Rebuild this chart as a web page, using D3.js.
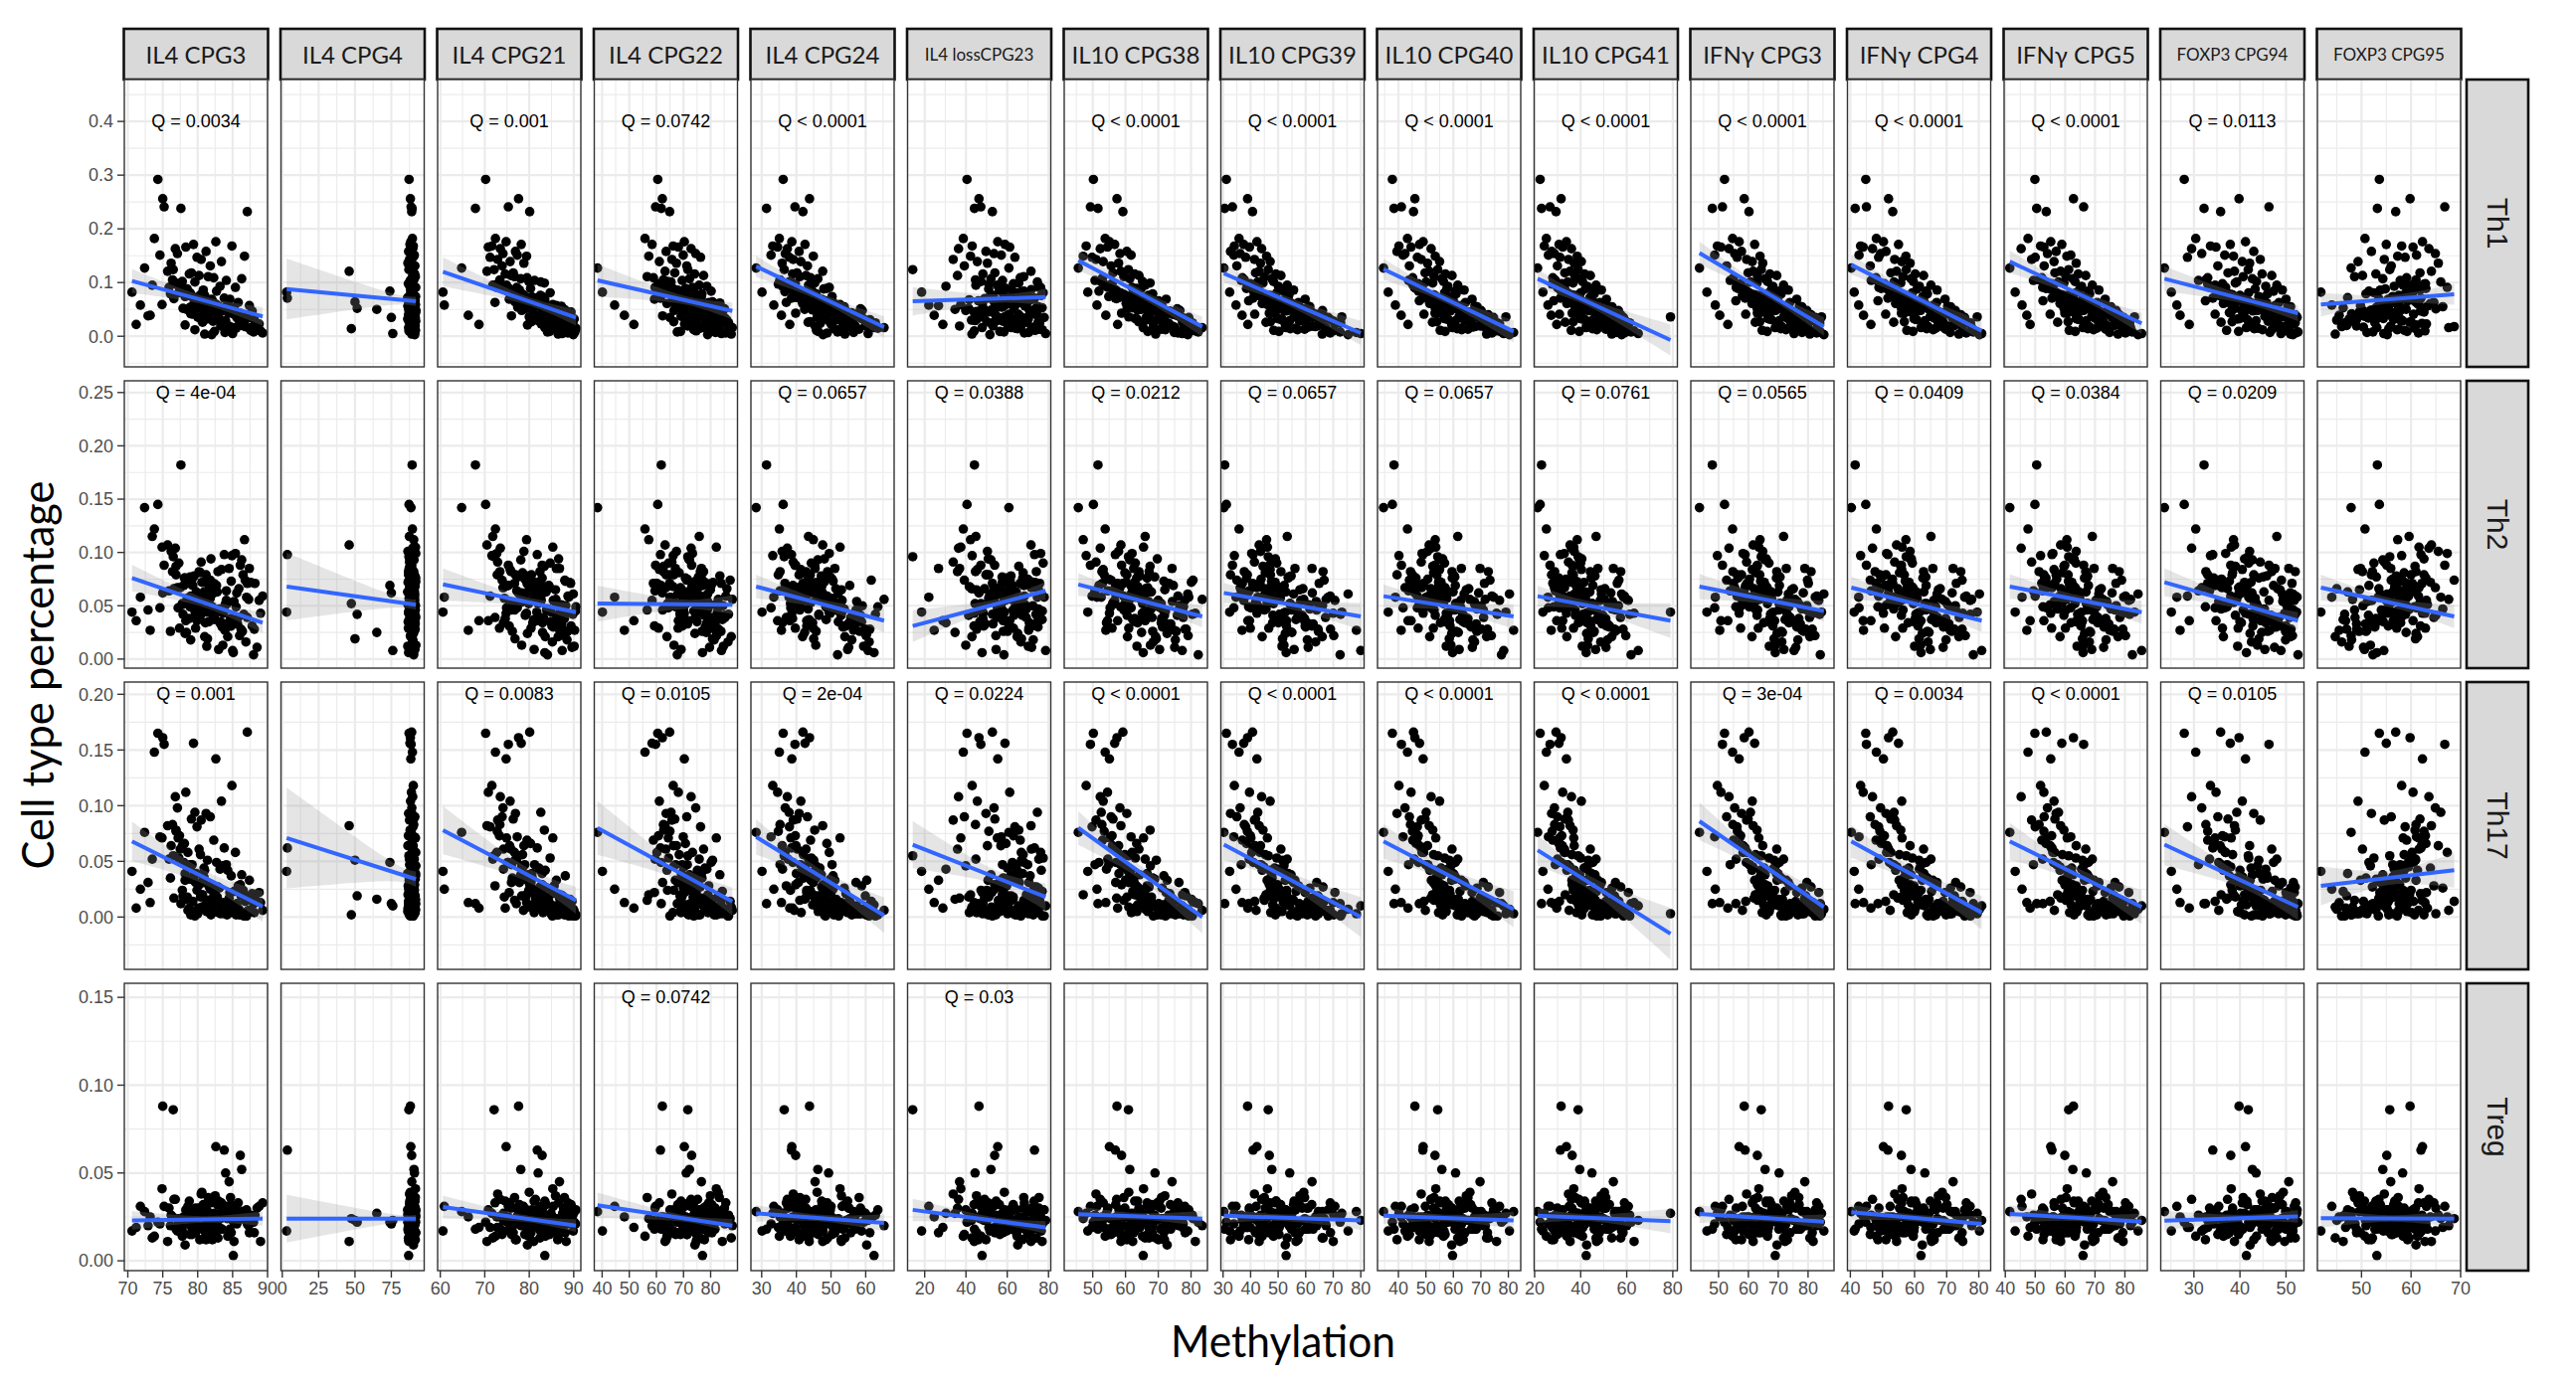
<!DOCTYPE html>
<html>
<head>
<meta charset="utf-8">
<script src="https://cdn.jsdelivr.net/npm/d3@7"></script>
<style>
  body { margin: 0; background: #fff; }
</style>
</head>
<body>
<div id="chart"></div>
<script>
// Facet labels
const columns = ["IL4 CPG3", "IL4 CPG4", "IL4 CPG21", "IL4 CPG22", "IL4 CPG24", "IL4 lossCPG23",
    "IL10 CPG38", "IL10 CPG39", "IL10 CPG40", "IL10 CPG41", "IFNγ CPG3", "IFNγ CPG4", "IFNγ CPG5",
    "FOXP3 CPG94", "FOXP3 CPG95"];
const rows = ["Th1", "Th2", "Th17", "Treg"];

// Cell type percentage per subject (same subjects in every column)
const th1 = [
    .292,.256,.238,.241,.232,.182,.176,.168,.171,.163,.158,.166,.149,.154,.143,.151,.139,.147,.136,.131,
    .127,.118,.124,.109,.116,.121,.104,.113,.098,.107,.101,.095,.111,.089,.093,.099,.086,.091,.102,.084,
    .082,.077,.088,.071,.079,.068,.074,.063,.081,.066,.072,.059,.069,.061,.076,.057,.064,.07,.055,.062,
    .058,.049,.054,.061,.046,.052,.043,.056,.048,.041,.053,.045,.038,.05,.044,.036,.047,.04,.051,.035,
    .039,.031,.034,.027,.042,.029,.033,.024,.037,.026,.03,.021,.035,.028,.019,.032,.023,.025,.018,.036,
    .022,.014,.017,.009,.02,.012,.016,.006,.019,.011,.004,.015,.008,.013,.003,.018,.01,.007,.016,.005,
    .095,.072,.061,.083,.049,.066,.105,.057,.078,.044,.069,.088,.052,.074,.039,.063,.091,.047,.081,.056,
    .034,.071,.059,.045,.087,.065,.028,.076,.053,.041,.068,.097,.048,.06,.031,.084,.055,.043,.073,.025];
const th2 = [
    .145,.062,.182,.088,.071,.122,.043,.097,.055,.104,.079,.036,.112,.067,.091,.048,.084,.059,.101,.074,
    .142,.053,.096,.071,.038,.107,.064,.082,.029,.093,.058,.115,.046,.076,.034,.087,.061,.099,.052,.069,
    .044,.081,.057,.098,.026,.068,.075,.039,.09,.049,.063,.105,.031,.072,.054,.085,.019,.066,.047,.078,
    .058,.034,.077,.021,.065,.042,.088,.051,.013,.069,.037,.094,.046,.025,.073,.056,.031,.082,.041,.062,
    .027,.063,.041,.079,.018,.052,.035,.071,.009,.047,.066,.024,.058,.039,.085,.012,.055,.03,.074,.044,
    .036,.052,.011,.067,.028,.045,.006,.059,.033,.072,.021,.049,.004,.038,.061,.016,.043,.027,.056,.008,
    .048,.063,.037,.071,.055,.029,.082,.044,.059,.033,.068,.051,.041,.076,.026,.057,.064,.035,.049,.072,
    .039,.053,.046,.031,.067,.058,.022,.061,.043,.054,.036,.079,.05,.062,.028,.069,.047,.034,.056,.042];
const th17 = [
    .165,.161,.012,.155,.166,.148,.142,.118,.156,.108,.093,.112,.02,.098,.087,.072,.104,.081,.064,.09,
    .076,.088,.055,.069,.008,.082,.047,.061,.073,.038,.094,.052,.015,.066,.043,.078,.031,.058,.024,.049,
    .041,.056,.018,.062,.035,.004,.047,.028,.053,.012,.039,.071,.022,.044,.006,.033,.051,.017,.026,.038,
    .025,.011,.034,.042,.005,.019,.029,.008,.046,.014,.023,.002,.031,.016,.037,.009,.021,.027,.003,.012,
    .013,.018,.006,.024,.002,.01,.028,.015,.004,.02,.007,.033,.001,.012,.017,.005,.022,.009,.014,.003,
    .008,.002,.014,.005,.019,.001,.011,.006,.003,.016,.009,.002,.012,.004,.007,.001,.013,.003,.006,.01,
    .071,.036,.022,.058,.009,.031,.083,.014,.045,.006,.027,.064,.018,.039,.003,.025,.052,.011,.047,.02,
    .005,.033,.016,.008,.061,.029,.002,.042,.013,.01,.024,.077,.007,.019,.004,.049,.015,.006,.035,.001];
const treg = [
    .022,.088,.018,.031,.025,.014,.065,.027,.02,.035,.012,.029,.024,.017,.038,.021,.033,.019,.026,.015,
    .028,.016,.086,.023,.034,.011,.026,.03,.019,.052,.024,.013,.036,.021,.027,.018,.032,.025,.014,.022,
    .017,.03,.024,.063,.02,.027,.015,.033,.022,.012,.029,.041,.018,.025,.031,.016,.023,.035,.019,.028,
    .031,.019,.026,.014,.037,.022,.06,.018,.029,.024,.011,.033,.02,.027,.016,.039,.023,.013,.03,.021,
    .025,.032,.012,.028,.021,.05,.017,.026,.034,.019,.023,.009,.029,.016,.045,.022,.031,.018,.024,.027,
    .019,.024,.03,.015,.027,.021,.003,.033,.018,.026,.013,.029,.022,.036,.017,.025,.011,.028,.02,.023,
    .024,.018,.027,.021,.031,.016,.025,.029,.02,.023,.034,.017,.026,.022,.028,.019,.03,.024,.015,.027,
    .021,.025,.018,.032,.023,.02,.026,.017,.029,.022,.024,.019,.028,.021,.016,.025,.023,.03,.02,.026];

// Methylation per subject, one array per CpG site
const il4Cpg3 = [
    74.3,75.0,77.6,75.2,87.1,73.8,82.6,84.9,79.4,76.8,81.2,78.3,86.7,77.1,80.5,74.6,83.4,79.9,76.2,81.8,
    72.4,79.1,76.5,82.3,78.8,75.7,84.1,80.2,77.4,86.3,79.6,73.5,81.5,78.1,83.2,76.9,80.8,85.4,77.8,82.7,
    70.6,80.4,78.5,83.8,76.1,81.7,79.2,85.8,77.3,82.1,79.8,74.9,84.6,80.9,78.6,87.4,81.4,76.6,83.1,79.5,
    71.8,81.1,78.9,84.3,82.5,77.9,86.1,80.1,83.6,79.3,85.2,81.9,72.9,78.4,84.8,80.6,87.8,82.9,79.7,85.6,
    73.2,82.8,80.3,86.5,79.0,84.0,81.6,88.2,83.0,80.7,85.9,78.2,87.0,82.2,84.5,81.3,88.8,83.5,86.8,80.0,
    71.2,84.2,88.5,82.4,86.2,79.6,85.1,89.3,83.3,87.6,81.0,85.5,88.0,84.7,82.0,86.9,89.0,83.9,87.3,85.0,
    77.2,80.9,82.4,78.6,84.1,79.7,76.4,81.3,79.0,85.7,82.0,77.8,80.4,78.2,86.4,81.8,75.9,83.3,78.9,80.6,
    87.1,79.4,82.7,84.8,77.5,80.2,86.0,81.0,83.7,85.2,79.9,76.9,83.9,82.3,88.1,78.0,81.5,84.4,80.8,86.6];
const il4Cpg4 = [
    87.2,88.1,89.3,88.6,89.0,89.5,88.4,90.1,87.8,89.7,86.9,88.8,90.4,89.1,87.5,90.8,88.2,89.9,86.4,91.2,
    88.5,90.3,87.1,89.4,91.0,46.0,88.0,89.8,86.7,90.6,88.9,87.4,91.5,89.2,90.0,87.9,88.3,91.8,89.6,74.0,
    3.0,90.2,88.7,3.5,89.1,91.3,87.6,90.7,88.4,89.5,86.2,91.6,88.0,90.9,89.3,87.3,50.0,90.5,88.6,91.1,
    89.7,87.0,91.4,88.3,90.0,51.5,89.0,86.5,91.9,88.8,90.3,87.7,89.4,65.0,91.7,88.1,90.8,86.8,89.2,75.0,
    90.6,88.4,91.5,87.2,89.8,90.9,86.6,88.9,91.2,89.5,87.5,90.2,88.1,91.8,89.1,86.3,90.5,88.7,91.0,89.9,
    88.2,47.5,90.1,87.9,91.4,89.3,86.9,90.7,88.6,91.6,89.0,87.4,90.4,88.3,91.1,89.6,87.1,90.9,88.8,76.0,
    88.9,90.6,87.3,89.6,91.1,88.0,90.4,86.8,89.3,91.4,87.7,90.0,88.5,91.7,89.0,87.2,90.8,88.3,89.8,86.5,
    91.3,88.7,90.2,87.6,89.4,91.0,88.1,90.5,87.0,89.2,90.9,88.6,91.6,87.9,90.3,89.1,88.4,91.2,87.4,90.1];
const il4Cpg21 = [
    70.2,77.6,67.9,75.3,80.1,72.4,74.8,71.6,78.2,73.5,76.9,70.8,79.4,74.1,72.9,77.3,75.7,71.2,78.8,73.9,
    64.8,76.4,72.1,79.5,74.6,70.5,81.2,75.9,73.3,78.1,82.6,71.8,76.7,80.3,74.2,83.4,77.8,72.7,79.9,75.1,
    60.6,78.5,74.4,81.8,76.2,83.1,79.0,72.3,84.7,77.1,80.6,85.3,75.5,82.2,78.7,86.1,76.8,81.4,84.0,79.7,
    60.9,80.8,77.4,83.6,85.9,79.2,82.9,87.2,78.3,84.4,81.0,86.6,76.0,83.0,88.1,80.0,85.1,82.4,87.7,81.6,
    66.3,83.8,86.4,80.5,88.5,82.0,85.6,89.3,81.1,87.0,84.2,79.6,88.9,83.2,86.8,90.1,82.7,85.4,88.0,84.9,
    68.7,86.2,89.6,84.6,87.5,90.4,83.5,88.7,85.8,89.1,86.5,90.5,84.1,87.9,89.9,85.2,88.3,90.2,86.0,87.4,
    74.9,79.6,82.3,76.7,85.4,80.4,73.4,81.7,78.6,87.3,83.5,75.6,79.1,82.9,88.6,80.9,77.2,84.8,76.0,81.3,
    86.2,78.0,83.9,89.4,74.2,80.1,87.9,82.5,79.4,85.9,81.9,72.8,88.2,78.3,86.7,75.3,84.3,83.0,80.7,89.8];
const il4Cpg22 = [
    60.5,62.2,61.8,59.7,64.9,55.8,70.3,66.2,58.4,72.8,63.6,68.1,57.2,74.5,65.7,69.9,61.1,76.3,67.4,71.2,
    38.3,66.8,71.6,58.9,74.1,63.2,69.5,77.4,60.8,72.2,65.4,75.8,56.6,70.7,78.6,62.7,67.9,73.3,64.1,80.2,
    40.1,68.4,73.7,61.5,76.8,66.1,71.4,79.3,64.5,74.9,69.2,82.1,59.3,77.9,72.6,67.0,80.7,75.2,70.0,83.4,
    44.6,70.8,75.5,63.9,79.9,68.7,73.0,81.6,66.5,77.1,84.3,71.9,62.3,78.4,74.4,82.8,69.6,76.2,85.1,72.5,
    48.2,73.6,77.7,66.4,81.3,71.0,75.0,83.9,69.1,79.0,86.0,74.2,65.0,80.5,76.6,84.7,70.4,78.0,87.2,82.5,
    51.7,75.4,79.6,68.9,82.9,73.8,77.0,85.6,71.5,80.9,87.6,76.1,67.7,83.2,78.9,86.4,74.7,81.8,88.0,84.0,
    64.4,71.3,74.7,60.2,78.3,68.0,62.6,75.9,70.1,81.0,73.1,66.3,69.4,76.6,83.8,72.0,59.5,79.6,67.1,74.0,
    85.3,70.9,77.3,80.4,63.5,72.8,82.2,75.1,68.8,78.9,71.7,65.0,84.5,73.9,79.1,61.7,76.0,81.7,69.7,86.6];
const il4Cpg24 = [
    36.2,43.8,31.4,39.6,41.9,35.1,38.7,33.2,42.5,37.4,40.8,34.6,44.9,36.8,39.1,32.7,41.3,38.0,35.9,43.2,
    28.4,40.2,36.5,44.1,38.9,47.6,35.3,42.8,39.7,46.2,37.9,43.5,41.0,48.8,36.0,45.3,40.6,49.5,38.3,44.6,
    30.1,42.0,47.9,38.6,45.7,41.4,50.3,37.1,44.3,48.5,40.0,52.6,43.0,46.8,39.4,51.1,45.0,42.7,53.8,47.2,
    33.5,44.7,49.8,41.8,53.0,46.5,39.8,51.7,45.6,55.4,43.7,48.1,57.2,42.4,50.6,46.0,54.3,49.0,58.5,52.1,
    35.7,47.4,52.9,44.0,56.0,49.3,58.8,46.9,54.8,43.4,51.4,60.3,48.4,55.7,45.4,59.4,50.0,53.4,61.6,57.6,
    38.1,50.8,55.1,46.3,59.9,52.2,62.4,48.9,57.0,45.8,54.0,63.5,51.9,58.1,47.7,61.0,53.0,56.5,65.3,60.7,
    38.4,45.8,48.6,36.7,53.2,44.9,35.3,49.4,42.6,55.9,47.3,39.9,46.5,43.7,58.3,50.6,37.6,52.1,41.2,48.0,
    56.7,44.2,51.5,54.0,40.3,47.7,60.1,45.4,49.8,57.4,43.0,34.8,59.0,46.8,61.2,39.0,50.9,55.2,42.1,62.8];
const il4LossCpg23 = [
    40.5,46.3,44.1,47.2,52.8,38.7,55.4,43.0,58.9,36.4,49.7,61.2,42.2,53.6,33.8,57.1,45.5,63.7,50.4,39.2,
    60.8,54.0,14.2,66.3,48.2,71.5,57.7,35.9,63.0,52.1,74.6,44.8,68.0,59.4,30.3,65.6,56.2,76.2,47.3,62.5,
    18.5,67.7,51.0,73.2,58.1,41.6,69.9,55.0,77.4,46.0,64.4,37.5,72.0,60.1,53.3,26.7,66.9,49.0,75.1,61.8,
    22.0,70.7,57.5,64.8,45.1,73.9,53.9,68.6,39.9,61.0,76.9,50.8,65.9,34.7,71.1,58.6,48.6,74.1,63.3,55.8,
    24.6,62.9,67.3,50.1,72.6,44.4,59.7,75.7,54.6,69.3,42.7,65.1,77.9,57.9,36.9,70.2,52.5,74.9,61.4,48.1,
    28.8,65.0,71.8,56.4,60.3,77.0,47.8,68.3,53.1,73.5,42.9,63.9,58.4,75.4,51.6,66.6,44.0,70.4,61.9,78.6,
    55.2,61.4,47.9,66.8,52.3,70.5,44.6,58.7,63.9,49.4,73.0,56.9,41.3,67.5,60.2,53.8,75.3,46.7,64.6,57.6,
    69.2,50.7,62.8,43.9,71.7,59.3,54.5,76.5,48.3,65.4,58.0,51.1,72.4,61.9,45.2,68.1,55.7,74.2,63.0,52.8];
const il10Cpg38 = [
    50.2,57.4,51.6,49.3,59.2,53.8,55.1,48.0,56.7,52.3,60.4,54.5,47.1,58.3,51.0,61.7,53.2,49.8,57.9,55.6,
    45.6,56.2,60.9,53.0,62.8,58.6,50.7,64.1,55.9,61.3,52.6,66.0,59.5,63.4,54.2,67.5,57.0,62.0,65.2,51.9,
    48.5,59.8,64.7,56.9,68.3,61.8,54.9,66.6,63.0,70.1,58.0,65.5,72.4,60.2,67.0,62.5,69.4,57.3,71.2,64.3,
    51.3,63.7,68.9,60.6,72.0,65.9,58.8,70.7,67.6,74.6,62.2,69.7,76.3,64.9,71.7,61.0,73.5,67.2,75.8,66.3,
    54.0,67.9,71.9,64.0,75.2,69.0,62.9,73.2,70.4,77.4,66.1,72.7,79.3,68.1,74.2,63.5,78.1,71.3,80.6,76.7,
    57.6,70.9,75.0,66.8,78.5,72.2,65.4,76.0,73.8,80.1,69.2,77.7,82.2,71.0,79.0,68.5,81.3,74.9,83.4,77.3,
    55.3,62.1,64.9,57.6,70.0,61.0,52.8,65.7,59.4,72.8,63.7,56.0,60.5,66.6,75.5,64.4,54.6,71.4,58.5,62.8,
    77.6,60.0,67.3,73.7,56.8,63.0,79.1,61.7,65.1,74.3,66.0,53.5,76.6,64.0,78.2,57.1,67.8,70.9,61.3,80.4];
const il10Cpg39 = [
    31.2,38.9,30.6,33.4,40.7,35.8,42.3,34.1,37.5,44.0,32.7,39.6,45.8,36.2,41.4,33.9,47.1,38.2,43.6,35.0,
    30.3,41.8,46.4,37.0,49.2,43.1,36.6,51.0,39.9,47.7,42.6,53.3,45.0,38.5,50.1,44.5,55.6,40.4,48.3,52.2,
    32.4,45.3,50.8,40.9,54.0,47.3,43.8,57.4,49.5,39.3,52.8,46.1,59.8,48.7,42.0,56.1,51.6,44.9,61.5,54.7,
    34.7,48.0,53.7,44.2,57.9,50.5,46.8,61.1,52.1,41.5,56.5,49.0,64.0,55.0,47.6,59.3,53.0,66.3,58.7,62.4,
    36.9,50.9,57.2,47.2,60.6,54.2,49.7,64.9,55.8,45.6,59.0,52.6,68.2,57.7,62.3,51.4,70.6,60.0,66.7,73.1,
    39.0,54.4,60.9,50.3,64.5,57.0,52.9,68.9,62.7,48.4,66.0,56.3,72.5,59.6,75.4,63.6,70.0,78.4,67.4,80.0,
    40.1,47.5,51.3,43.4,58.2,46.6,37.7,52.6,44.8,61.5,49.3,41.6,48.1,53.7,64.6,50.4,39.5,59.7,43.0,48.9,
    67.2,46.0,54.8,62.2,42.3,49.8,70.2,47.0,51.9,63.8,53.1,38.8,66.1,50.9,69.0,41.0,55.6,60.4,47.8,72.7];
const il10Cpg40 = [
    37.8,46.0,38.4,41.1,45.5,43.3,49.0,40.2,47.7,51.9,39.5,44.6,53.4,42.4,48.3,41.7,55.0,46.9,50.6,44.0,
    34.6,49.7,54.3,45.2,57.1,51.2,43.7,59.5,47.2,55.8,50.1,61.6,53.0,46.4,58.0,52.5,63.9,48.6,56.4,60.7,
    36.3,52.8,57.6,48.9,61.0,54.6,50.7,64.4,56.8,47.6,59.9,53.6,66.8,55.5,49.8,62.9,58.5,51.8,68.6,60.3,
    38.9,55.3,60.5,51.4,64.7,57.9,53.3,67.8,59.1,49.3,62.4,56.1,70.9,61.8,54.8,66.0,58.8,72.7,63.4,69.2,
    41.0,58.2,63.6,54.0,67.1,60.8,56.6,71.3,62.1,52.4,65.6,59.4,74.6,64.2,69.7,57.4,76.8,66.5,73.3,79.1,
    43.5,61.4,66.9,57.0,70.2,63.0,59.7,74.0,68.3,55.2,72.1,62.6,77.5,65.3,80.4,67.7,75.7,81.9,71.6,78.3,
    46.9,54.0,56.8,49.2,62.7,52.7,44.4,58.3,51.0,65.4,55.1,47.6,53.4,59.6,68.5,56.0,45.8,63.5,50.0,54.6,
    71.0,52.0,60.6,66.3,48.4,55.7,73.8,53.2,57.4,67.6,58.6,45.1,70.1,56.5,72.4,47.3,61.2,64.2,53.8,76.0];
const il10Cpg41 = [
    22.4,31.5,23.0,26.7,29.3,25.1,33.8,24.2,30.6,36.0,27.4,32.2,38.5,28.6,34.7,26.0,40.3,31.0,37.2,29.9,
    21.3,33.1,38.9,27.9,41.7,35.4,29.0,44.2,31.8,39.6,34.4,46.7,37.6,30.5,42.8,36.7,49.0,32.9,40.8,45.3,
    23.6,36.2,42.1,31.2,45.9,38.2,33.6,48.4,40.0,28.3,44.0,37.0,51.2,41.5,35.0,47.5,43.3,39.2,53.6,46.2,
    25.8,39.0,44.7,34.0,48.9,41.1,36.3,52.0,43.0,30.8,46.9,40.5,55.1,45.6,38.1,50.3,44.4,57.4,49.6,53.1,
    27.2,41.9,47.8,36.8,51.7,44.9,39.8,55.9,46.5,33.3,50.5,42.6,58.6,48.1,54.2,40.7,60.7,52.4,56.6,79.0,
    29.6,45.1,51.0,39.4,54.7,47.0,42.4,59.0,49.3,35.9,53.5,46.0,61.9,50.9,57.8,48.7,63.2,55.5,60.0,65.0,
    30.8,38.4,41.6,33.3,48.5,36.9,28.7,43.3,35.3,51.6,39.8,32.0,37.7,44.7,54.9,41.0,29.9,49.9,34.3,38.9,
    57.3,36.2,45.9,52.5,33.0,40.4,59.6,37.3,42.4,53.8,43.8,27.6,56.4,41.9,58.4,31.5,46.4,50.6,38.0,61.3];
const ifngCpg3 = [
    52.0,58.6,47.9,51.3,60.2,54.7,56.9,49.6,62.1,53.5,57.7,50.8,63.9,55.4,59.4,48.7,61.3,56.2,64.8,52.7,
    43.6,59.9,64.3,55.0,67.2,61.6,53.9,69.5,57.4,65.6,60.7,71.8,63.1,56.5,68.2,62.9,73.4,58.2,66.4,70.4,
    46.1,62.4,67.8,58.9,71.0,64.6,60.4,73.9,66.9,55.8,69.9,63.5,76.2,65.3,58.0,72.7,68.6,61.9,77.9,70.0,
    48.9,65.1,70.6,61.2,74.5,67.4,63.0,77.1,69.1,59.1,72.3,66.0,79.6,71.4,64.1,75.6,68.2,81.0,73.2,78.4,
    50.4,67.7,73.1,63.8,76.6,70.3,66.5,80.1,71.9,62.3,75.1,69.6,82.4,74.0,78.9,67.0,83.6,76.3,79.8,84.5,
    53.1,70.9,75.9,66.3,79.2,72.6,69.0,82.9,77.4,64.6,80.6,73.6,84.1,76.9,85.3,71.2,81.7,78.0,83.1,75.3,
    57.0,64.4,67.3,59.6,72.9,63.3,54.8,68.3,61.5,75.8,66.0,58.2,62.9,69.4,78.6,66.8,55.9,74.2,60.3,65.2,
    80.5,62.1,70.2,77.0,58.9,65.6,82.3,64.0,67.8,76.4,68.8,56.3,79.6,66.4,81.4,59.3,71.3,73.6,63.7,83.9];
const ifngCpg4 = [
    44.8,51.9,41.5,45.0,53.2,48.1,50.3,43.2,55.0,46.9,51.1,44.0,57.3,49.4,53.8,42.7,56.0,48.8,58.6,46.2,
    40.3,52.6,57.4,48.0,60.2,54.4,46.5,62.8,50.6,58.9,53.6,65.1,56.4,49.6,61.5,55.7,67.0,51.3,59.6,63.6,
    41.2,55.3,60.8,51.7,64.0,57.7,53.1,66.9,59.3,48.6,62.9,56.1,69.5,58.2,52.4,65.7,61.4,54.8,71.2,63.0,
    42.6,58.0,63.5,54.1,67.4,60.4,55.9,70.3,61.9,51.0,65.3,59.0,72.8,64.5,57.1,68.6,61.1,74.4,66.2,71.7,
    44.1,60.6,66.1,56.8,69.8,63.2,59.8,73.0,64.9,53.5,68.0,62.4,75.6,67.2,72.0,60.0,77.3,69.0,74.8,79.5,
    46.4,63.8,68.9,59.5,72.4,65.8,62.0,76.1,70.7,57.6,73.8,66.6,78.3,69.7,80.2,64.2,75.0,71.1,77.8,80.9,
    50.0,57.2,60.4,52.6,66.0,56.3,47.7,61.6,54.5,68.9,59.0,51.4,55.9,62.6,71.6,59.9,48.9,67.1,53.5,58.2,
    73.9,55.2,63.5,70.1,51.9,58.7,75.8,57.0,61.0,69.6,62.0,49.2,72.7,59.5,74.8,52.2,64.3,66.7,56.6,77.4];
const ifngCpg5 = [
    49.9,62.8,50.5,66.2,53.7,47.6,55.2,51.8,58.9,45.3,57.0,52.9,60.6,54.1,48.8,61.9,56.3,50.0,63.7,53.0,
    41.5,56.6,61.2,52.2,64.4,58.5,49.4,66.9,55.5,62.6,57.8,69.1,60.3,53.6,65.5,59.6,71.3,55.9,63.3,67.8,
    43.3,59.1,64.9,55.6,68.2,61.5,57.2,70.8,63.6,52.6,67.0,60.7,73.4,62.2,56.4,69.7,65.8,58.6,75.3,67.5,
    45.6,62.0,67.4,58.3,71.5,64.2,59.9,74.2,66.2,55.0,69.3,63.0,76.7,68.5,61.1,72.6,65.3,78.1,70.1,75.7,
    47.2,64.7,70.0,61.0,73.7,67.1,63.7,77.0,68.9,57.5,72.1,66.5,79.6,71.0,75.9,64.0,81.3,73.0,78.9,83.2,
    48.3,67.6,72.9,63.4,76.4,69.5,66.0,80.2,74.6,61.4,77.7,70.6,82.5,73.6,84.4,68.1,79.4,74.9,81.9,85.6,
    53.8,61.0,64.1,56.5,70.3,60.1,51.3,65.5,58.3,73.2,62.9,55.0,59.6,66.5,76.1,63.8,52.5,71.4,57.3,62.1,
    78.3,59.0,67.4,74.4,55.6,62.5,80.2,60.8,64.9,73.9,65.8,52.9,77.1,63.3,79.3,56.1,68.3,70.9,60.4,81.6];
const foxp3Cpg94 = [
    27.9,39.8,32.2,46.3,35.8,30.4,41.2,33.6,37.9,29.5,43.0,34.8,38.6,31.7,44.4,36.7,40.5,28.6,42.1,35.2,
    23.6,37.4,41.8,33.0,44.8,38.8,31.0,46.9,36.2,42.7,39.3,48.0,40.7,34.3,45.6,39.0,49.2,36.9,43.6,47.3,
    25.1,38.4,43.3,34.1,46.0,40.1,36.0,48.5,41.9,32.5,45.2,38.1,50.0,42.4,35.4,47.6,44.1,37.3,51.0,45.8,
    26.3,40.3,45.0,36.4,48.7,42.0,38.0,50.4,43.8,34.6,47.0,41.0,51.6,44.7,37.7,49.4,42.8,52.0,46.4,50.9,
    27.0,41.6,46.7,38.3,49.9,43.5,40.0,51.3,45.4,35.9,48.2,42.2,52.4,46.1,50.6,39.5,51.8,47.9,49.0,52.3,
    29.0,43.1,47.5,39.7,50.2,44.9,41.4,52.1,48.4,37.1,51.0,43.9,52.6,47.0,51.5,42.5,49.7,46.5,50.7,48.9,
    34.6,40.6,42.9,36.8,46.3,39.6,32.6,43.6,38.0,48.3,41.5,35.7,39.0,44.1,49.9,42.2,33.4,47.0,37.2,41.0,
    50.8,38.6,44.8,48.9,36.1,41.9,51.4,40.0,43.1,49.3,44.5,33.0,50.2,42.6,51.1,35.4,45.3,47.6,39.3,52.0];
const foxp3Cpg95 = [
    53.6,59.8,53.2,66.8,56.9,50.7,62.3,58.1,55.0,63.6,52.0,60.4,57.3,64.9,54.6,61.1,49.3,58.8,65.5,56.0,
    47.9,61.8,55.7,59.1,52.9,64.1,57.8,50.2,62.9,54.3,66.0,59.6,48.6,63.0,56.6,60.8,53.8,67.3,58.4,51.5,
    41.8,58.6,54.8,62.0,50.9,60.1,56.3,64.6,52.5,59.3,47.2,61.6,55.4,63.9,57.5,49.8,60.9,53.5,66.4,57.0,
    44.0,57.9,53.0,61.3,49.6,58.9,55.1,63.3,51.8,60.5,46.3,62.6,54.0,59.0,56.8,48.2,61.9,52.2,65.0,57.6,
    45.5,56.5,51.4,60.0,48.0,58.3,54.4,62.2,50.6,59.7,45.0,61.0,53.4,58.0,55.9,47.5,63.1,52.7,68.7,56.2,
    46.8,55.5,50.4,59.2,47.0,57.2,53.1,61.5,49.0,58.7,44.7,60.7,52.3,57.4,55.2,46.0,62.8,51.1,67.6,54.5,
    58.4,56.3,53.7,60.2,52.1,57.1,61.0,55.0,59.5,50.8,56.7,62.1,54.2,58.0,49.5,55.8,60.9,51.9,59.0,57.5,
    48.7,56.0,54.7,52.6,61.6,57.7,47.9,58.6,55.3,51.2,56.4,62.6,50.3,57.2,49.0,60.5,55.5,52.9,58.9,46.6];

// Axis limits and breaks
const xLimits = [[69.5, 90], [-0.9, 97.6], [59.4, 91.6], [37.1, 89.9], [26.9, 68.2], [11.7, 81.1],
    [41.3, 85], [29.2, 81.2], [32.4, 84.5], [19.8, 82], [40.7, 88.7], [39.1, 83.7], [39.6, 87.5],
    [22.8, 53.9], [41.1, 70]];
const xTicks = [[70, 75, 80, 85, 90], [0, 25, 50, 75], [60, 70, 80, 90], [40, 50, 60, 70, 80],
    [30, 40, 50, 60], [20, 40, 60, 80], [50, 60, 70, 80], [30, 40, 50, 60, 70, 80],
    [40, 50, 60, 70, 80], [20, 40, 60, 80], [50, 60, 70, 80], [40, 50, 60, 70, 80],
    [40, 50, 60, 70, 80], [30, 40, 50], [50, 60, 70]];
const yLimits = [[-0.057, 0.478], [-0.0085, 0.261], [-0.047, 0.211], [-0.0056, 0.158]];
const yTicks = [[0, 0.1, 0.2, 0.3, 0.4], [0, 0.05, 0.1, 0.15, 0.2, 0.25],
    [0, 0.05, 0.1, 0.15, 0.2], [0, 0.05, 0.1, 0.15]];
const yDigits = [1, 2, 2, 2];

// Q values (empty = not shown) and height of the label in data units
const qTh1 = ["Q = 0.0034", "", "Q = 0.001", "Q = 0.0742", "Q < 0.0001", "", "Q < 0.0001", "Q < 0.0001",
    "Q < 0.0001", "Q < 0.0001", "Q < 0.0001", "Q < 0.0001", "Q < 0.0001", "Q = 0.0113", ""];
const qTh2 = ["Q = 4e-04", "", "", "", "Q = 0.0657", "Q = 0.0388", "Q = 0.0212", "Q = 0.0657",
    "Q = 0.0657", "Q = 0.0761", "Q = 0.0565", "Q = 0.0409", "Q = 0.0384", "Q = 0.0209", ""];
const qTh17 = ["Q = 0.001", "", "Q = 0.0083", "Q = 0.0105", "Q = 2e-04", "Q = 0.0224", "Q < 0.0001",
    "Q < 0.0001", "Q < 0.0001", "Q < 0.0001", "Q = 3e-04", "Q = 0.0034", "Q < 0.0001", "Q = 0.0105", ""];
const qTreg = ["", "", "", "Q = 0.0742", "", "Q = 0.03", "", "", "", "", "", "", "", "", ""];
const qLevel = [0.4, 0.25, 0.2, 0.15];

// Fitted line value at the lowest and highest methylation of each panel
const fitStartTh1 = [0.103, 0.088, 0.12, 0.104, 0.13, 0.065, 0.141, 0.117, 0.125, 0.107, 0.155, 0.133, 0.139, 0.107, 0.059];
const fitEndTh1 = [0.037, 0.065, 0.035, 0.047, 0.017, 0.073, 0.018, 0.006, 0.009, -0.007, 0.018, 0.01, 0.024, 0.043, 0.078];
const fitStartTh2 = [0.076, 0.068, 0.07, 0.052, 0.068, 0.031, 0.07, 0.062, 0.059, 0.059, 0.068, 0.067, 0.068, 0.072, 0.067];
const fitEndTh2 = [0.034, 0.051, 0.044, 0.051, 0.036, 0.064, 0.04, 0.04, 0.04, 0.036, 0.045, 0.036, 0.044, 0.036, 0.04];
const fitStartTh17 = [0.068, 0.071, 0.078, 0.08, 0.072, 0.065, 0.08, 0.065, 0.068, 0.06, 0.086, 0.068, 0.068, 0.065, 0.028];
const fitEndTh17 = [0.0095, 0.034, 0.015, 0.014, 0.0015, 0.018, 0.0, 0.0, 0.007, -0.015, 0.009, 0.004, 0.009, 0.009, 0.042];
const fitStartTreg = [0.023, 0.024, 0.0306, 0.0316, 0.027, 0.029, 0.0265, 0.0257, 0.0257, 0.0257, 0.0267, 0.0276, 0.0267, 0.0229, 0.0242];
const fitEndTreg = [0.024, 0.024, 0.02, 0.02, 0.0216, 0.019, 0.024, 0.023, 0.023, 0.0226, 0.0223, 0.021, 0.0223, 0.0253, 0.024];
// residual standard deviation per cell type, used for the 95% band
const residualSd = [0.05, 0.028, 0.04, 0.012];

window.onload = () => {
    const cellData = [th1, th2, th17, treg];
    const methData = [il4Cpg3, il4Cpg4, il4Cpg21, il4Cpg22, il4Cpg24, il4LossCpg23, il10Cpg38, il10Cpg39,
        il10Cpg40, il10Cpg41, ifngCpg3, ifngCpg4, ifngCpg5, foxp3Cpg94, foxp3Cpg95];
    const qText = [qTh1, qTh2, qTh17, qTreg];
    const fitStart = [fitStartTh1, fitStartTh2, fitStartTh17, fitStartTreg];
    const fitEnd = [fitEndTh1, fitEndTh2, fitEndTh17, fitEndTreg];

    const width = 2590, height = 1388;
    const left = 125, colStep = 157.5, panelW = 144;
    const top = 80, rowStep = 303, panelH = 289;
    const stripTop = 29;
    const tickLen = 7;
    const numFont = "'Liberation Sans', Arial, sans-serif";
    const titleFont = "Lato, 'Open Sans', sans-serif";

    const svg = d3.select("#chart").append("svg")
        .attr("width", width).attr("height", height)
        .style("background", "#fff");
    const defs = svg.append("defs");

    // minor breaks halfway between majors, ggplot style
    function minorBreaks(ticks, domain) {
        const step = ticks[1] - ticks[0];
        const out = [ticks[0] - step / 2].concat(ticks.map(t => t + step / 2));
        return out.filter(v => v > domain[0] && v < domain[1]);
    }

    columns.forEach((name, c) => {
        const x0 = left + c * colStep;
        const xScale = d3.scaleLinear().domain(xLimits[c]).range([x0, x0 + panelW]);
        const xs = methData[c];
        const xExt = d3.extent(xs);
        const xMean = d3.mean(xs);
        const sxx = d3.sum(xs, v => (v - xMean) * (v - xMean));

        // column strip
        svg.append("rect")
            .attr("x", x0 - 0.5).attr("y", stripTop)
            .attr("width", panelW + 1).attr("height", top - stripTop)
            .attr("fill", "#d9d9d9").attr("stroke", "#111").attr("stroke-width", 2.6);
        svg.append("text")
            .attr("x", x0 + panelW / 2).attr("y", (stripTop + top) / 2)
            .attr("text-anchor", "middle").attr("dominant-baseline", "central")
            .style("font-family", titleFont)
            .style("font-size", name.length > 10 ? "17px" : "24px")
            .style("fill", "#1a1a1a")
            .text(name);

        rows.forEach((rname, r) => {
            const y0 = top + r * rowStep;
            const yScale = d3.scaleLinear().domain(yLimits[r]).range([y0 + panelH, y0]);
            const g = svg.append("g");
            const clipId = `clip-${r}-${c}`;
            defs.append("clipPath").attr("id", clipId)
                .append("rect").attr("x", x0).attr("y", y0).attr("width", panelW).attr("height", panelH);

            g.append("rect").attr("x", x0).attr("y", y0).attr("width", panelW).attr("height", panelH)
                .attr("fill", "#fff");

            // grid
            const grid = g.append("g").attr("stroke", "#ebebeb");
            minorBreaks(xTicks[c], xLimits[c]).forEach(v => {
                grid.append("line").attr("x1", xScale(v)).attr("x2", xScale(v))
                    .attr("y1", y0).attr("y2", y0 + panelH).attr("stroke-width", 1.1);
            });
            minorBreaks(yTicks[r], yLimits[r]).forEach(v => {
                grid.append("line").attr("y1", yScale(v)).attr("y2", yScale(v))
                    .attr("x1", x0).attr("x2", x0 + panelW).attr("stroke-width", 1.1);
            });
            xTicks[c].forEach(v => {
                grid.append("line").attr("x1", xScale(v)).attr("x2", xScale(v))
                    .attr("y1", y0).attr("y2", y0 + panelH).attr("stroke-width", 2.2);
            });
            yTicks[r].forEach(v => {
                grid.append("line").attr("y1", yScale(v)).attr("y2", yScale(v))
                    .attr("x1", x0).attr("x2", x0 + panelW).attr("stroke-width", 2.2);
            });

            const inner = g.append("g").attr("clip-path", `url(#${clipId})`);
            const ys = cellData[r];
            const pts = xs.map((x, i) => ({ x: x, y: ys[i] }));

            inner.selectAll("circle").data(pts).enter().append("circle")
                .attr("cx", d => xScale(d.x)).attr("cy", d => yScale(d.y))
                .attr("r", 4.8).attr("fill", "#000");

            // regression line with 95% band
            const fitAt = v => fitStart[r][c] + (fitEnd[r][c] - fitStart[r][c]) * (v - xExt[0]) / (xExt[1] - xExt[0]);
            const halfAt = v => 1.98 * residualSd[r] * Math.sqrt(1 / xs.length + (v - xMean) * (v - xMean) / sxx);
            const band = d3.range(0, 41).map(k => xExt[0] + (xExt[1] - xExt[0]) * k / 40);
            inner.append("path")
                .datum(band)
                .attr("d", d3.area()
                    .x(v => xScale(v))
                    .y0(v => yScale(fitAt(v) - halfAt(v)))
                    .y1(v => yScale(fitAt(v) + halfAt(v))))
                .attr("fill", "#999").attr("fill-opacity", 0.25);
            inner.append("line")
                .attr("x1", xScale(xExt[0])).attr("y1", yScale(fitStart[r][c]))
                .attr("x2", xScale(xExt[1])).attr("y2", yScale(fitEnd[r][c]))
                .attr("stroke", "#3366ff").attr("stroke-width", 4);

            if (qText[r][c]) {
                g.append("text")
                    .attr("x", x0 + panelW / 2).attr("y", yScale(qLevel[r]))
                    .attr("text-anchor", "middle").attr("dominant-baseline", "central")
                    .style("font-family", numFont).style("font-size", "18px").style("fill", "#000")
                    .text(qText[r][c]);
            }

            g.append("rect").attr("x", x0).attr("y", y0).attr("width", panelW).attr("height", panelH)
                .attr("fill", "none").attr("stroke", "#333").attr("stroke-width", 1.4);

            // y axis on the first column
            if (c === 0) {
                const fmt = d3.format(`.${yDigits[r]}f`);
                yTicks[r].forEach(v => {
                    svg.append("line").attr("x1", x0 - tickLen).attr("x2", x0)
                        .attr("y1", yScale(v)).attr("y2", yScale(v))
                        .attr("stroke", "#333").attr("stroke-width", 1.4);
                    svg.append("text").attr("x", x0 - tickLen - 4).attr("y", yScale(v))
                        .attr("text-anchor", "end").attr("dy", "0.35em")
                        .style("font-family", numFont).style("font-size", "18px").style("fill", "#4d4d4d")
                        .text(fmt(v));
                });
            }
            // x axis on the last row
            if (r === rows.length - 1) {
                xTicks[c].forEach(v => {
                    svg.append("line").attr("x1", xScale(v)).attr("x2", xScale(v))
                        .attr("y1", y0 + panelH).attr("y2", y0 + panelH + tickLen)
                        .attr("stroke", "#333").attr("stroke-width", 1.4);
                    svg.append("text").attr("x", xScale(v)).attr("y", y0 + panelH + tickLen + 17)
                        .attr("text-anchor", "middle")
                        .style("font-family", numFont).style("font-size", "18px").style("fill", "#4d4d4d")
                        .text(v);
                });
            }
            // row strip on the right
            if (c === columns.length - 1) {
                const sx = x0 + panelW + 6;
                svg.append("rect").attr("x", sx).attr("y", y0).attr("width", 62).attr("height", panelH)
                    .attr("fill", "#d9d9d9").attr("stroke", "#111").attr("stroke-width", 2.6);
                svg.append("text")
                    .attr("transform", `translate(${sx + 31},${y0 + panelH / 2}) rotate(90)`)
                    .attr("text-anchor", "middle").attr("dominant-baseline", "central")
                    .style("font-family", numFont).style("font-size", "30px").style("fill", "#1a1a1a")
                    .text(rname);
            }
        });
    });

    // axis titles
    svg.append("text")
        .attr("transform", `translate(37,${top + (3 * rowStep + panelH) / 2}) rotate(-90)`)
        .attr("text-anchor", "middle").attr("dominant-baseline", "central")
        .attr("textLength", 391).attr("lengthAdjust", "spacingAndGlyphs")
        .style("font-family", titleFont).style("font-size", "44px").style("fill", "#000")
        .text("Cell type percentage");
    svg.append("text")
        .attr("x", 1290).attr("y", 1365)
        .attr("text-anchor", "middle")
        .attr("textLength", 226).attr("lengthAdjust", "spacingAndGlyphs")
        .style("font-family", titleFont).style("font-size", "44px").style("fill", "#000")
        .text("Methylation");
};
</script>
</body>
</html>
